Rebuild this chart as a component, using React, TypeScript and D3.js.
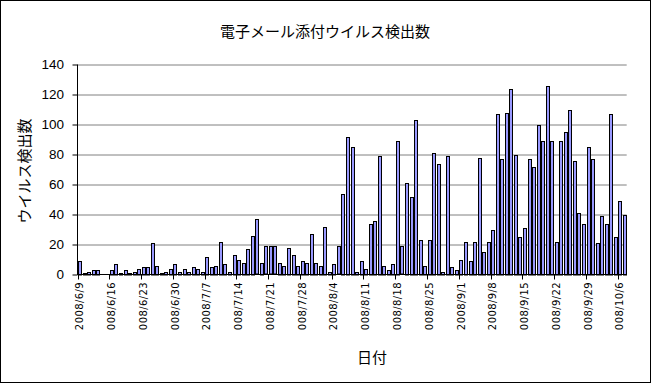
import React from "react";
import * as d3 from "d3";

const TITLE = "電子メール添付ウイルス検出数";
const Y_TITLE = "ウイルス検出数";
const X_TITLE = "日付";

// daily counts from 2008/6/9 to 2008/10/7
const counts: number[] = [
  9, 1, 2, 3, 3, 0, 0, 3, 7, 1, 3, 1, 2, 4, 5, 5, 21, 6, 1, 2,
  4, 7, 2, 4, 2, 5, 4, 2, 12, 5, 6, 22, 7, 2, 13, 10, 8, 17, 26, 37,
  8, 19, 19, 19, 8, 6, 18, 13, 6, 9, 8, 27, 8, 6, 32, 2, 7, 19, 54, 92,
  85, 2, 9, 4, 34, 36, 79, 6, 3, 7, 89, 19, 61, 52, 103, 23, 6, 23, 81, 74,
  2, 79, 5, 3, 10, 22, 9, 22, 78, 15, 22, 30, 107, 77, 108, 124, 80, 25, 31, 77,
  72, 100, 89, 126, 89, 22, 89, 95, 110, 76, 41, 34, 85, 77, 21, 39, 34, 107, 25, 49,
  40,
];

// tick labels as shown (every 7 days; long ones truncated in the picture)
const tickLabels: string[] = [
  "2008/6/9", "008/6/16", "008/6/23", "008/6/30", "2008/7/7", "008/7/14",
  "008/7/21", "008/7/28", "2008/8/4", "008/8/11", "008/8/18", "008/8/25",
  "2008/9/1", "2008/9/8", "008/9/15", "008/9/22", "008/9/29", "008/10/6",
];
const tickEvery = 7;
const yTicks: number[] = [0, 20, 40, 60, 80, 100, 120, 140];

const W = 651;
const H = 383;
const L = 77.5;
const R = 626.7;
const T = 64.5;
const B = 274.5;

export default function App() {
  const idx = counts.map((_, i) => i);
  const x = d3
    .scaleBand<number>()
    .domain(idx)
    .range([L, R])
    .paddingInner(0.3)
    .paddingOuter(0.15);
  const step = x.step();
  const y = d3.scaleLinear().domain([0, 140]).range([B, T]);

  const boundaries = d3.range(0, counts.length, tickEvery);

  return (
    <svg
      width={W}
      height={H}
      style={{ position: "absolute", left: 0, top: 0, background: "#fff" }}
    >
      <defs>
        <clipPath id="lblclip">
          <rect x={0} y={276} width={W} height={55} />
        </clipPath>
      </defs>
      <rect x={0.5} y={0.5} width={W - 1} height={H - 1} fill="#fff" stroke="#000" />
      <text
        x={325}
        y={30}
        textAnchor="middle"
        dominantBaseline="central"
        fontFamily="'Noto Sans CJK JP'"
        fontSize={15}
        fill="#000"
      >
        {TITLE}
      </text>
      {yTicks
        .filter((v) => v > 0)
        .map((v) => (
          <line
            key={"g" + v}
            x1={L}
            x2={R}
            y1={Math.round(y(v))}
            y2={Math.round(y(v))}
            stroke="#808080"
            strokeWidth={1}
          />
        ))}
      {counts.map((v, i) =>
        v > 0 ? (
          <rect
            key={"b" + i}
            x={Math.round(x(i)!) + 0.5}
            y={Math.round(y(v)) + 0.5}
            width={Math.round(x.bandwidth())}
            height={Math.round(B - y(v)) - 0.5}
            fill="#9999FF"
            stroke="#000"
            strokeWidth={1}
          />
        ) : null
      )}
      <line x1={L} x2={L} y1={T} y2={B + 0.5} stroke="#000" />
      <line x1={L - 0.5} x2={R} y1={B} y2={B} stroke="#000" />
      {yTicks.map((v) => (
        <g key={"y" + v}>
          <line x1={L - 5} x2={L} y1={Math.round(y(v))} y2={Math.round(y(v))} stroke="#000" />
          <text
            x={64}
            y={y(v)}
            textAnchor="end"
            dominantBaseline="central"
            fontFamily="'Liberation Sans', Arial"
            fontSize={13.5}
            fill="#000"
          >
            {v}
          </text>
        </g>
      ))}
      {boundaries.map((i) => {
        const bx = Math.round(L + i * step) + 0.5;
        return <line key={"t" + i} x1={bx} x2={bx} y1={B} y2={B + 5} stroke="#000" />;
      })}
      <g clipPath="url(#lblclip)">
        {boundaries.map((i, k) => {
          const cx = L + (i + 0.5) * step;
          return (
            <text
              key={"l" + i}
              transform={`translate(${cx + 3.5},282) rotate(-90)`}
              textAnchor="end"
              fontFamily="'DejaVu Sans'"
              fontSize={10}
              letterSpacing={0.4}
              fill="#000"
            >
              {tickLabels[k]}
            </text>
          );
        })}
      </g>
      <text
        transform={`translate(23,171) rotate(-90)`}
        textAnchor="middle"
        dominantBaseline="central"
        fontFamily="'Noto Sans CJK JP'"
        fontSize={15}
        fill="#000"
      >
        {Y_TITLE}
      </text>
      <text
        x={372}
        y={356}
        textAnchor="middle"
        dominantBaseline="central"
        fontFamily="'Noto Sans CJK JP'"
        fontSize={15}
        fill="#000"
      >
        {X_TITLE}
      </text>
    </svg>
  );
}
